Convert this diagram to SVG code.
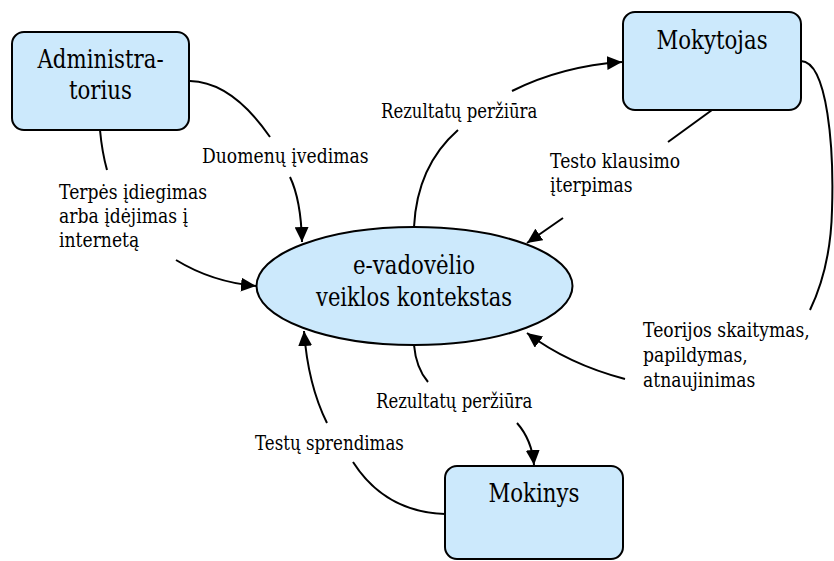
<svg xmlns="http://www.w3.org/2000/svg" width="834" height="561" viewBox="0 0 834 561">
  <style>
    .box { fill: #cce9fc; stroke: #000; stroke-width: 2; }
    .t { font-family: 'DejaVu Serif', 'Liberation Serif', serif; fill: #000; }
    .title { font-size: 26px; text-anchor: middle; }
    .lbl { font-size: 20px; }
    .edge { fill: none; stroke: #000; stroke-width: 2; }
    .edge.arrow { marker-end: url(#head); }
  </style>
  <defs>
    <marker id="head" markerUnits="userSpaceOnUse" markerWidth="16" markerHeight="14" refX="15" refY="7" orient="auto">
      <path d="M0,0 L15,7 L0,14 Z" fill="#000"/>
    </marker>
  </defs>
  <rect width="834" height="561" fill="#fff"/>

  <!-- connectors: each flow is split where its label sits -->
  <g id="connectors">
    <!-- Administratorius -> context: Duomenų įvedimas -->
    <path class="edge" d="M190,81 Q232,82 270,137"/>
    <path class="edge arrow" d="M290,177 Q301,200 302,242"/>
    <!-- Administratorius -> context: Terpės įdiegimas -->
    <path class="edge" d="M100,130 Q102,152 107,170"/>
    <path class="edge arrow" d="M176,260 Q212,282 256,286"/>
    <!-- context -> Mokytojas: Rezultatų peržiūra -->
    <path class="edge" d="M414,227 Q417,166 458,130"/>
    <path class="edge arrow" d="M512,91 Q562,66 622,62"/>
    <!-- Mokytojas -> context: Testo klausimo įterpimas -->
    <path class="edge" d="M712,110 L668,142"/>
    <path class="edge arrow" d="M563,218 L527,243"/>
    <!-- Mokytojas -> context: Teorijos skaitymas -->
    <path class="edge" d="M801,61 C828,62 834,150 832,210 C831,255 822,285 810,310"/>
    <path class="edge arrow" d="M625,379 Q568,364 527,333"/>
    <!-- context -> Mokinys: Rezultatų peržiūra -->
    <path class="edge" d="M414,345 Q416,368 428,382"/>
    <path class="edge arrow" d="M517,423 Q532,440 534,465"/>
    <!-- Mokinys -> context: Testų sprendimas -->
    <path class="edge" d="M445,514 Q385,512 353,462"/>
    <path class="edge arrow" d="M327,423 Q308,385 304,331"/>
  </g>

  <g id="administratorius">
    <rect class="box" x="12" y="32" width="177" height="98" rx="12"/>
    <text class="t title" transform="translate(100.5,68) scale(0.82,1)">Administra-</text>
    <text class="t title" transform="translate(100.5,99) scale(0.82,1)">torius</text>
  </g>

  <g id="mokytojas">
    <rect class="box" x="623" y="12" width="178" height="98" rx="12"/>
    <text class="t title" transform="translate(712,49) scale(0.82,1)">Mokytojas</text>
  </g>

  <g id="kontekstas">
    <ellipse class="box" cx="414.5" cy="286" rx="158" ry="59"/>
    <text class="t title" transform="translate(414,274) scale(0.82,1)">e-vadovėlio</text>
    <text class="t title" transform="translate(414,306) scale(0.81,1)">veiklos kontekstas</text>
  </g>

  <g id="mokinys">
    <rect class="box" x="445" y="466" width="178" height="93" rx="12"/>
    <text class="t title" transform="translate(534,502) scale(0.82,1)">Mokinys</text>
  </g>

  <!-- flow labels -->
  <g id="labels">
    <text class="t lbl" transform="translate(202,163) scale(0.86,1)">Duomenų įvedimas</text>
    <text class="t lbl" transform="translate(59,199) scale(0.86,1)">Terpės įdiegimas</text>
    <text class="t lbl" transform="translate(59,223) scale(0.86,1)">arba įdėjimas į</text>
    <text class="t lbl" transform="translate(59,247) scale(0.86,1)">internetą</text>
    <text class="t lbl" transform="translate(381,118) scale(0.825,1)">Rezultatų peržiūra</text>
    <text class="t lbl" transform="translate(550,168) scale(0.86,1)">Testo klausimo</text>
    <text class="t lbl" transform="translate(550,192) scale(0.86,1)">įterpimas</text>
    <text class="t lbl" transform="translate(643,337) scale(0.86,1)">Teorijos skaitymas,</text>
    <text class="t lbl" transform="translate(643,362) scale(0.86,1)">papildymas,</text>
    <text class="t lbl" transform="translate(643,387) scale(0.86,1)">atnaujinimas</text>
    <text class="t lbl" transform="translate(376,408) scale(0.825,1)">Rezultatų peržiūra</text>
    <text class="t lbl" transform="translate(255,450) scale(0.833,1)">Testų sprendimas</text>
  </g>
</svg>
